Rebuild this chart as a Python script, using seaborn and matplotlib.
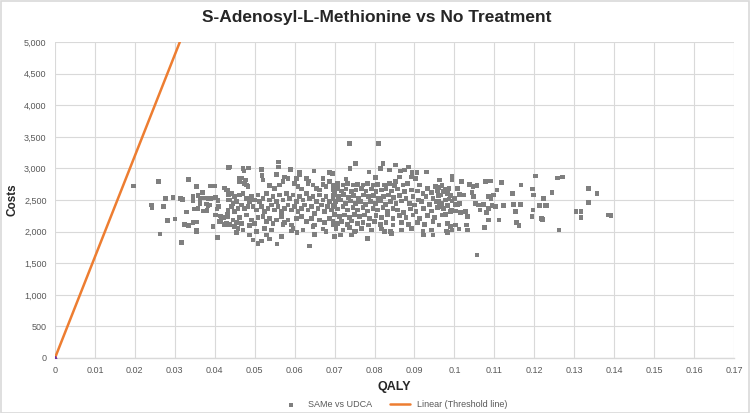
import numpy as np
import pandas as pd
import matplotlib
matplotlib.use("Agg")
import matplotlib.pyplot as plt
from matplotlib.patches import Rectangle
from matplotlib.ticker import FuncFormatter, MultipleLocator
import seaborn as sns

TITLE = "S-Adenosyl-L-Methionine vs No Treatment"
SERIES_NAME = "SAMe vs UDCA"
LINE_NAME = "Linear (Threshold line)"

# incremental QALY / cost pairs, left to right
qaly_left = [0.0197, 0.0259, 0.0242, 0.0243, 0.0271, 0.0277, 0.0295, 0.0281, 0.0300, 0.0263,
             0.0317, 0.0334, 0.0315, 0.0320, 0.0354, 0.0329, 0.0346, 0.0346, 0.0358, 0.0325,
             0.0334, 0.0346, 0.0356, 0.0354, 0.0355, 0.0349, 0.0358, 0.0370, 0.0371, 0.0388,
             0.0399, 0.0363, 0.0373, 0.0383, 0.0391, 0.0363, 0.0379, 0.0388, 0.0381, 0.0383,
             0.0402, 0.0408, 0.0410, 0.0406, 0.0402, 0.0414, 0.0396, 0.0407, 0.0416, 0.0412,
             0.0422, 0.0434, 0.0424, 0.0429, 0.0429, 0.0424, 0.0435, 0.0435, 0.0432]
cost_left = [2720, 2795, 2420, 2380, 2395, 2520, 2540, 2180, 2200, 1960,
             1830, 2830, 2520, 2510, 2715, 2310, 2560, 2495, 2575, 2115,
             2100, 2145, 2150, 2025, 2000, 2360, 2365, 2615, 2325, 2720,
             2720, 2525, 2530, 2520, 2525, 2445, 2440, 2420, 2335, 2410,
             2545, 2495, 2400, 2360, 2265, 2245, 2080, 1905, 2180, 2160,
             2220, 3015, 2690, 2660, 2125, 2115, 2590, 2500, 2280]

qaly_mid1 = [0.0437, 0.0471, 0.0473, 0.0484, 0.0517, 0.0560, 0.0560, 0.0590, 0.0612, 0.0612,
             0.0648, 0.0636, 0.0671, 0.0687, 0.0461, 0.0467, 0.0462, 0.0475, 0.0479, 0.0483,
             0.0477, 0.0518, 0.0521, 0.0554, 0.0575, 0.0583, 0.0571, 0.0562, 0.0550, 0.0537,
             0.0604, 0.0600, 0.0608, 0.0617, 0.0629, 0.0633, 0.0646, 0.0654, 0.0662, 0.0671,
             0.0679, 0.0687, 0.0696,
             0.0433, 0.0442, 0.0450, 0.0437, 0.0446, 0.0454, 0.0462, 0.0471, 0.0479, 0.0487,
             0.0467, 0.0475, 0.0483, 0.0492, 0.0500, 0.0508, 0.0512, 0.0521, 0.0529, 0.0537,
             0.0546, 0.0554, 0.0562, 0.0571, 0.0579, 0.0587, 0.0596, 0.0604, 0.0612, 0.0621,
             0.0629, 0.0637, 0.0646, 0.0654, 0.0662, 0.0671, 0.0679, 0.0687, 0.0696, 0.0700,
             0.0433, 0.0442, 0.0450, 0.0458, 0.0496, 0.0504, 0.0517, 0.0525, 0.0533, 0.0542,
             0.0550, 0.0558, 0.0567, 0.0575, 0.0583, 0.0592, 0.0600, 0.0608, 0.0617, 0.0625,
             0.0633, 0.0642, 0.0650, 0.0658, 0.0667, 0.0675, 0.0683, 0.0692, 0.0700,
             0.0433, 0.0446, 0.0454, 0.0462, 0.0437, 0.0450, 0.0467, 0.0479, 0.0492, 0.0500,
             0.0487, 0.0508, 0.0521, 0.0529, 0.0537, 0.0546, 0.0554, 0.0567, 0.0575, 0.0583,
             0.0592, 0.0604, 0.0617, 0.0629, 0.0642, 0.0650, 0.0662, 0.0675, 0.0687, 0.0696,
             0.0458, 0.0471, 0.0504, 0.0525, 0.0542, 0.0571, 0.0596, 0.0621, 0.0646, 0.0671,
             0.0454, 0.0487, 0.0496, 0.0508, 0.0517, 0.0529, 0.0537, 0.0556, 0.0567, 0.0592,
             0.0606, 0.0637, 0.0650, 0.0679]
cost_mid1 = [3026, 2995, 2958, 3005, 2984, 3105, 3026, 2984, 2932, 2895,
             2958, 2800, 2842, 2937, 2842, 2852, 2789, 2763, 2737, 2710,
             2815, 2884, 2815, 2905, 2868, 2842, 2789, 2737, 2684, 2726,
             2842, 2763, 2710, 2674, 2842, 2763, 2737, 2684, 2658, 2747,
             2710, 2789, 2710,
             2658, 2605, 2552, 2500, 2447, 2473, 2579, 2605, 2526, 2473,
             2421, 2368, 2394, 2552, 2500, 2579, 2473, 2526, 2605, 2500,
             2552, 2473, 2579, 2500, 2605, 2526, 2579, 2473, 2552, 2500,
             2605, 2526, 2552, 2473, 2579, 2500, 2552, 2473, 2526, 2605,
             2342, 2394, 2316, 2368, 2394, 2342, 2394, 2316, 2368, 2421,
             2342, 2394, 2316, 2368, 2421, 2342, 2394, 2316, 2368, 2421,
             2342, 2394, 2289, 2368, 2421, 2316, 2394, 2342, 2421,
             2237, 2184, 2147, 2221, 2116, 2079, 2131, 2263, 2184, 2131,
             2094, 2221, 2237, 2158, 2210, 2131, 2184, 2237, 2147, 2184,
             2105, 2210, 2237, 2158, 2210, 2105, 2184, 2147, 2210, 2116,
             2052, 2026, 2000, 2052, 2026, 2116, 2052, 2026, 2079, 2042,
             1989, 1947, 1868, 1815, 1852, 1947, 1884, 1805, 1921, 2010,
             1984, 1773, 1958, 2000]

qaly_mid2 = [0.0737, 0.0810, 0.0753, 0.0739, 0.0821, 0.0815, 0.0786, 0.0838, 0.0853, 0.0865,
             0.0875, 0.0885, 0.0894, 0.0906, 0.0930, 0.0695, 0.0729, 0.0803, 0.0853, 0.0863,
             0.0893, 0.0903, 0.0963, 0.0953,
             0.0700, 0.0708, 0.0721, 0.0733, 0.0746, 0.0758, 0.0771, 0.0783, 0.0796, 0.0808,
             0.0825, 0.0838, 0.0850, 0.0871, 0.0883, 0.0913, 0.0933,
             0.0696, 0.0707, 0.0717, 0.0729, 0.0742, 0.0754, 0.0767, 0.0779, 0.0792, 0.0804,
             0.0817, 0.0829, 0.0842, 0.0858, 0.0875, 0.0892, 0.0908, 0.0921, 0.0942, 0.0958,
             0.0698, 0.0710, 0.0723, 0.0735, 0.0748, 0.0760, 0.0773, 0.0785, 0.0798, 0.0810,
             0.0823, 0.0835, 0.0848, 0.0863, 0.0879, 0.0896, 0.0910, 0.0929, 0.0946, 0.0960,
             0.0702, 0.0715, 0.0727, 0.0740, 0.0752, 0.0765, 0.0777, 0.0790, 0.0802, 0.0815,
             0.0827, 0.0840, 0.0854, 0.0868, 0.0888, 0.0900, 0.0917, 0.0938, 0.0954,
             0.0696, 0.0708, 0.0721, 0.0733, 0.0746, 0.0758, 0.0771, 0.0782, 0.0796, 0.0808,
             0.0821, 0.0833, 0.0846, 0.0858, 0.0873, 0.0890, 0.0904, 0.0923, 0.0942, 0.0957,
             0.0700, 0.0713, 0.0725, 0.0737, 0.0750, 0.0763, 0.0775, 0.0788, 0.0804, 0.0817,
             0.0832, 0.0846, 0.0863, 0.0879, 0.0896, 0.0913, 0.0933, 0.0950,
             0.0696, 0.0707, 0.0718, 0.0732, 0.0743, 0.0757, 0.0771, 0.0785, 0.0800, 0.0815,
             0.0829, 0.0846, 0.0867, 0.0885, 0.0907, 0.0925, 0.0946,
             0.0704, 0.0721, 0.0737, 0.0754, 0.0768, 0.0792, 0.0817, 0.0840, 0.0867, 0.0892,
             0.0921, 0.0942,
             0.0700, 0.0742, 0.0783, 0.0825, 0.0842, 0.0923, 0.0946, 0.0750, 0.0715]
cost_mid2 = [3394, 3394, 3079, 3000, 3079, 3000, 2947, 2973, 3052, 2958,
             2973, 3026, 2937, 2937, 2947, 2921, 2831, 2858, 2789, 2868,
             2868, 2842, 2815, 2710,
             2737, 2763, 2737, 2763, 2737, 2747, 2737, 2763, 2737, 2747,
             2737, 2763, 2726, 2737, 2763, 2737, 2684,
             2658, 2684, 2642, 2673, 2631, 2658, 2684, 2642, 2673, 2631,
             2658, 2684, 2642, 2673, 2631, 2658, 2642, 2605, 2621, 2642,
             2579, 2552, 2589, 2537, 2568, 2526, 2579, 2552, 2568, 2526,
             2552, 2579, 2537, 2568, 2526, 2552, 2500, 2552, 2526, 2568,
             2473, 2500, 2447, 2484, 2447, 2473, 2431, 2473, 2447, 2484,
             2431, 2473, 2447, 2484, 2447, 2421, 2473, 2431, 2473,
             2394, 2358, 2394, 2342, 2379, 2342, 2379, 2326, 2368, 2342,
             2379, 2326, 2368, 2342, 2305, 2358, 2316, 2368, 2326, 2379,
             2273, 2237, 2263, 2221, 2273, 2237, 2263, 2210, 2252, 2221,
             2263, 2210, 2252, 2221, 2263, 2210, 2252, 2221,
             2168, 2131, 2158, 2116, 2168, 2131, 2147, 2105, 2158, 2116,
             2147, 2105, 2147, 2116, 2147, 2116, 2158,
             2052, 2026, 2063, 2010, 2052, 2026, 2042, 2000, 2026, 2052,
             2000, 2026,
             1921, 1947, 1894, 2000, 1973, 1947, 1947, 2000, 1947]

qaly_right = [0.0963, 0.0994, 0.0994, 0.1018, 0.0961, 0.0969, 0.0978, 0.0986, 0.0973, 0.0965,
              0.0982, 0.0990, 0.0961, 0.0969, 0.0978, 0.0986, 0.0994, 0.1000, 0.0963, 0.0973,
              0.0982, 0.0992, 0.1003, 0.1011, 0.0969, 0.0978, 0.0990, 0.1003, 0.1015, 0.0961,
              0.0982, 0.0990, 0.1003, 0.1011, 0.0980, 0.0982, 0.0994, 0.1013, 0.1022, 0.1007,
              0.1009, 0.1013, 0.1028, 0.1032, 0.1030, 0.1033, 0.1038, 0.1047, 0.1057, 0.1044,
              0.1048, 0.1053, 0.1061, 0.1073, 0.1080, 0.1064, 0.1078, 0.1090, 0.1086, 0.1092,
              0.1098, 0.1086, 0.1094, 0.1103, 0.1086, 0.1076, 0.1057, 0.1107, 0.1118, 0.1112,
              0.1123, 0.1144, 0.1147, 0.1148, 0.1153, 0.1155, 0.1162, 0.1165, 0.1167, 0.1196,
              0.1198, 0.1197, 0.1194, 0.1203, 0.1213, 0.1218, 0.1222, 0.1228,
              0.1223, 0.1232, 0.1244, 0.1258, 0.1271, 0.1221, 0.1262, 0.1304, 0.1317, 0.1317,
              0.1336, 0.1336, 0.1357, 0.1392, 0.1386]
cost_right = [2815, 2879, 2815, 2789, 2694, 2726, 2673, 2684, 2631, 2579,
              2605, 2568, 2473, 2447, 2500, 2516, 2484, 2526, 2394, 2368,
              2410, 2342, 2431, 2447, 2263, 2273, 2316, 2326, 2305, 2105,
              2131, 2079, 2105, 2042, 2010, 1984, 2026, 2589, 2579, 2684,
              2421, 2447, 2316, 2237, 2105, 2026, 2747, 2710, 2726, 2616,
              2552, 2447, 2421, 2431, 2305, 2342, 2789, 2800, 2552, 2516,
              2579, 2368, 2410, 2394, 2184, 2063, 1631, 2658, 2779, 2184,
              2410, 2605, 2605, 2431, 2316, 2147, 2095, 2431, 2737, 2673,
              2579, 2342, 2237, 2879, 2410, 2210, 2526, 2410,
              2526, 2410, 2621, 2852, 2863, 2195, 2026, 2321, 2321, 2226,
              2684, 2458, 2600, 2258, 2262]

# threshold line: cost = 160,000 x QALY, clipped at the 5,000 axis limit
line_qaly = [0.0, 0.03125]
line_cost = [0.0, 5000.0]

x_ticks = [0, 0.01, 0.02, 0.03, 0.04, 0.05, 0.06, 0.07, 0.08, 0.09,
           0.1, 0.11, 0.12, 0.13, 0.14, 0.15, 0.16, 0.17]
x_tick_labels = ["0", "0.01", "0.02", "0.03", "0.04", "0.05", "0.06", "0.07", "0.08", "0.09",
                 "0.1", "0.11", "0.12", "0.13", "0.14", "0.15", "0.16", "0.17"]

POINT_COLOR = "#7f7f7f"
LINE_COLOR = "#ed7d31"
TICK_COLOR = "#595959"
GRID_COLOR = "#d9d9d9"


def build_frame():
    qaly = qaly_left + qaly_mid1 + qaly_mid2 + qaly_right
    cost = cost_left + cost_mid1 + cost_mid2 + cost_right
    return pd.DataFrame({"QALY": qaly, "Costs": cost})


def main():
    sns.set_style("white")
    plt.rcParams["font.family"] = ["Liberation Sans Narrow", "Liberation Sans", "DejaVu Sans"]

    df = build_frame()
    line_df = pd.DataFrame({"QALY": line_qaly, "Costs": line_cost})

    fig = plt.figure(figsize=(7.5, 4.13), dpi=100)
    fig.patches.append(Rectangle((0.001, 0.001), 0.998, 0.997, transform=fig.transFigure,
                                 fill=False, edgecolor=GRID_COLOR, linewidth=1.2))
    ax = fig.add_axes([0.0733, 0.1332, 0.9054, 0.7648])

    sns.scatterplot(data=df, x="QALY", y="Costs", ax=ax, marker="s", s=11,
                    color=POINT_COLOR, edgecolor="none", label=SERIES_NAME, zorder=3)
    sns.lineplot(data=line_df, x="QALY", y="Costs", ax=ax, color=LINE_COLOR,
                 linewidth=1.8, label=LINE_NAME, zorder=4)
    ax.plot([0], [0], marker="^", color="#7030a0", markersize=3, zorder=5)

    ax.set_xlim(0, 0.17)
    ax.set_ylim(0, 5000)
    ax.set_xticks(x_ticks)
    ax.set_xticklabels(x_tick_labels)
    ax.yaxis.set_major_locator(MultipleLocator(500))
    ax.yaxis.set_major_formatter(FuncFormatter(lambda v, _: f"{int(v):,}"))
    ax.tick_params(axis="both", length=0, labelsize=6.5, colors=TICK_COLOR, pad=6)

    ax.grid(True, color=GRID_COLOR, linewidth=0.8)
    ax.set_axisbelow(True)
    for side in ["top", "right", "left"]:
        ax.spines[side].set_visible(False)
    ax.spines["bottom"].set_color(GRID_COLOR)
    ax.spines["bottom"].set_linewidth(1.0)

    ax.set_xlabel("QALY", fontsize=9, fontweight="bold", color="#262626", labelpad=4)
    ax.set_ylabel("Costs", fontsize=8.5, fontweight="bold", color="#262626", labelpad=4)
    fig.suptitle(TITLE, x=0.503, y=0.975, fontsize=12.5, fontweight="bold", color="#262626")

    ax.legend(loc="center", bbox_to_anchor=(0.5, -0.148), ncol=2, frameon=False,
              fontsize=6.5, labelcolor=TICK_COLOR, handlelength=2.2, columnspacing=2.0,
              markerscale=0.8, borderpad=0.1)

    fig.savefig("out.png", dpi=100)
    plt.close(fig)


if __name__ == "__main__":
    main()
